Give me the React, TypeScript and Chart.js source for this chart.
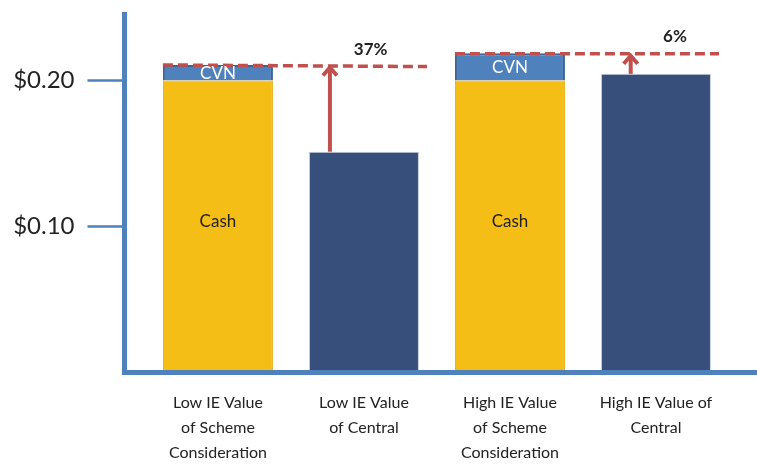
import React, { useEffect, useRef } from "react";
import { Chart, registerables } from "chart.js";
Chart.register(...registerables);

const categories = [
  ["Low IE Value", "of Scheme", "Consideration"],
  ["Low IE Value", "of Central"],
  ["High IE Value", "of Scheme", "Consideration"],
  ["High IE Value of", "Central"],
];
const categoryPositions = [0, 1, 2, 3];
const cashValues = [0.2, null, 0.2, null];
const cvnValues = [0.0106, null, 0.0186, null];
const centralValues = [null, 0.1512, null, 0.2045];
const yTickValues = [0.1, 0.2];

// dashed reference lines (x in category units, y in $)
const dash1X = [-0.377, 1.432];
const dash1Y = [0.2106, 0.2095];
const dash2X = [1.623, 3.432];
const dash2Y = [0.2183, 0.2183];

// arrows + labels
const gapLabels = ["37%", "6%"];
const gapX = [0.767, 2.827];
const gapFrom = [0.1512, 0.2045];
const gapTo = [0.2102, 0.2183];
const gapLabelX = [1.046, 3.13];
const gapLabelY = [0.2209, 0.2302];

const RED = "#C0504D";
const AXIS = "#4F81BD";
const FONT = "Lato";

const toPoints = (vals: (number | null)[]) =>
  categoryPositions
    .map((x, i) => ({ x, y: vals[i] }))
    .filter((p) => p.y !== null) as { x: number; y: number }[];

const annotatePlugin = {
  id: "annotate",
  afterDatasetsDraw(chart: any) {
    const { ctx } = chart;
    const xs = chart.scales.x;
    const ys = chart.scales.y;
    ctx.save();
    gapX.forEach((gx, i) => {
      const px = xs.getPixelForValue(gx);
      const y0 = ys.getPixelForValue(gapFrom[i]);
      const y1 = ys.getPixelForValue(gapTo[i]);
      ctx.strokeStyle = RED;
      ctx.lineWidth = 4;
      ctx.lineCap = "butt";
      ctx.beginPath();
      ctx.moveTo(px, y0);
      ctx.lineTo(px, y1 + 2);
      ctx.stroke();
      ctx.lineJoin = "miter";
      ctx.beginPath();
      ctx.moveTo(px - 7, y1 + 10);
      ctx.lineTo(px, y1 + 2);
      ctx.lineTo(px + 7, y1 + 10);
      ctx.stroke();
      ctx.font = `bold 17px ${FONT}`;
      ctx.fillStyle = "#222";
      ctx.textAlign = "center";
      ctx.textBaseline = "middle";
      ctx.fillText(gapLabels[i], xs.getPixelForValue(gapLabelX[i]), ys.getPixelForValue(gapLabelY[i]));
    });
    const cashMeta = chart.getDatasetMeta(2);
    cashMeta.data.forEach((el: any) => {
      ctx.font = `17px ${FONT}`;
      ctx.fillStyle = "#222";
      ctx.textAlign = "center";
      ctx.textBaseline = "middle";
      ctx.fillText("Cash", el.x, (el.y + el.base) / 2 - 5);
    });
    const cvnMeta = chart.getDatasetMeta(3);
    cvnMeta.data.forEach((el: any) => {
      ctx.font = `17px ${FONT}`;
      ctx.fillStyle = "#fff";
      ctx.textAlign = "center";
      ctx.textBaseline = "middle";
      ctx.fillText("CVN", el.x, (el.y + el.base) / 2 + 1);
    });
    ctx.restore();
  },
};

export default function App() {
  const ref = useRef<HTMLCanvasElement>(null);
  useEffect(() => {
    if (!ref.current) return;
    const chart = new Chart(ref.current, {
      type: "bar",
      data: {
        datasets: [
          {
            type: "line",
            data: dash1X.map((x, i) => ({ x, y: dash1Y[i] })),
            borderColor: RED,
            borderWidth: 3.5,
            borderDash: [10, 5],
            pointRadius: 0,
            stack: "d1",
            order: -1,
          } as any,
          {
            type: "line",
            data: dash2X.map((x, i) => ({ x, y: dash2Y[i] })),
            borderColor: RED,
            borderWidth: 3.5,
            borderDash: [10, 5],
            pointRadius: 0,
            stack: "d2",
            order: -1,
          } as any,
          {
            label: "Cash",
            data: toPoints(cashValues),
            backgroundColor: "#F5BE17",
            borderColor: "#E6B116",
            borderWidth: 1,
            borderSkipped: "bottom",
            stack: "s",
          },
          {
            label: "CVN",
            data: toPoints(cvnValues),
            backgroundColor: "#4F81BD",
            borderColor: "#3D6496",
            borderWidth: { left: 2, right: 2, top: 2, bottom: 0 },
            borderSkipped: false,
            stack: "s",
          },
          {
            label: "Central",
            data: toPoints(centralValues),
            backgroundColor: "#364F7B",
            borderColor: "#C9CED8",
            borderWidth: 1,
            borderSkipped: "bottom",
            stack: "s",
          },
        ],
      },
      options: {
        animation: false,
        responsive: true,
        maintainAspectRatio: false,
        barPercentage: 1,
        categoryPercentage: 110 / 146,
        layout: { padding: { top: 14, right: 0, left: 0, bottom: 0 } },
        plugins: { legend: { display: false }, tooltip: { enabled: false } },
        scales: {
          x: {
            type: "linear",
            min: -0.64,
            max: 3.692,
            offset: false,
            stacked: true,
            grid: { display: false, drawTicks: false, offset: false },
            border: { display: true, color: AXIS, width: 5, z: 1 },
            afterBuildTicks: (s: any) => {
              s.ticks = categoryPositions.map((v) => ({ value: v }));
            },
            afterFit: (s: any) => {
              s.height = 91.5;
              s.paddingLeft = 0;
              s.paddingRight = 0;
            },
            ticks: {
              autoSkip: false,
              maxRotation: 0,
              padding: 18,
              color: "#222",
              font: { family: FONT, size: 16, lineHeight: 1.55 },
              callback: (v: any) => categories[v] ?? "",
            },
          },
          y: {
            type: "linear",
            min: 0,
            max: 0.2455,
            stacked: true,
            grid: {
              drawOnChartArea: false,
              drawTicks: true,
              tickLength: 37,
              tickColor: AXIS,
              tickWidth: 2.5,
            },
            border: { display: true, color: AXIS, width: 5, z: 1 },
            afterBuildTicks: (s: any) => {
              s.ticks = yTickValues.map((v) => ({ value: v }));
            },
            afterFit: (s: any) => {
              s.width = 124.5;
              s.paddingTop = 0;
              s.paddingBottom = 0;
            },
            ticks: {
              padding: 13,
              color: "#222",
              font: { family: FONT, size: 24 },
              callback: (v: any) => "$" + Number(v).toFixed(2),
            },
          },
        },
      },
      plugins: [annotatePlugin],
    });
    return () => chart.destroy();
  }, []);
  return (
    <div style={{ position: "absolute", left: 0, top: 0, width: 757, height: 464, background: "#fff" }}>
      <canvas ref={ref} />
    </div>
  );
}
